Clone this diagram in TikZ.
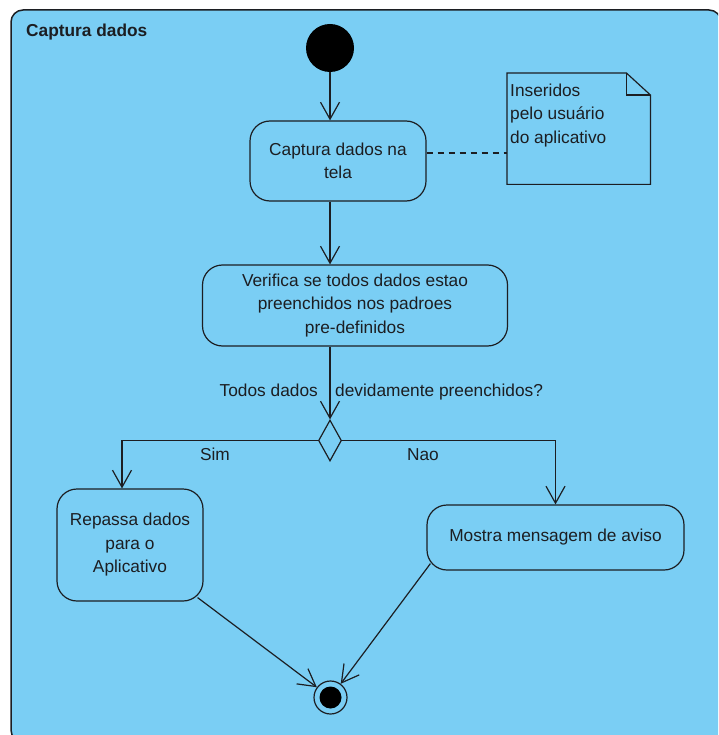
\documentclass[tikz,border=0pt]{standalone}
\usepackage{fontspec}
\setmainfont{Liberation Sans}
\usetikzlibrary{arrows.meta,shapes.geometric}
\definecolor{panel}{RGB}{122,206,244}
\definecolor{ink}{RGB}{28,30,34}
\begin{document}
\begin{tikzpicture}[x=1pt,y=-1pt,
  every node/.style={font=\fontsize{17.3pt}{23.5pt}\selectfont, text=ink},
  actbox/.style={draw=ink, line width=1.2pt, rounded corners=20pt, align=center, inner sep=0pt},
  flow/.style={draw=ink, line width=1.2pt, -{Straight Barb[length=17pt,width=19pt,line width=1.2pt]}},
  lbl/.style={inner sep=0pt}]
  \path[use as bounding box] (0,0) rectangle (718,735);
  \clip (0,0) rectangle (718,735);

  % activity frame
  \draw[fill=panel, draw=ink, line width=1.5pt, rounded corners=12pt] (11,10) rectangle (721,742);
  \node[lbl, anchor=base west, font=\fontsize{17.3pt}{20pt}\selectfont\bfseries] (title) at (26,37) {Captura dados};

  % initial and final nodes
  \node[circle, fill=black, minimum size=48pt, inner sep=0pt] (start) at (330,48) {};
  \node[circle, draw=ink, fill=panel, line width=1.2pt, minimum size=33pt, inner sep=0pt] (fin) at (330.5,697.5) {};
  \fill[black] (fin.center) circle[radius=11pt];

  % actions
  \node[actbox, minimum width=176pt, minimum height=80pt] (b1) at (338,161) {Captura dados na\\tela};
  \node[actbox, minimum width=305pt, minimum height=81pt] (b2) at (355,305.5) {Verifica se todos dados estao\\preenchidos nos padroes\\pre-definidos};
  \node[actbox, minimum width=146pt, minimum height=112pt] (b3) at (130,545) {Repassa dados\\para o\\Aplicativo};
  \node[actbox, minimum width=257pt, minimum height=65pt] (b4) at (555.5,537.5) {Mostra mensagem de aviso};

  % decision
  \node[diamond, draw=ink, line width=1.2pt, minimum width=23pt, minimum height=41pt, inner sep=0pt] (dia) at (330,440.5) {};

  % note with folded corner
  \node[minimum width=143pt, minimum height=111pt, inner sep=0pt, anchor=north west] (note) at (507,73) {};
  \draw[ink, line width=1.2pt, fill=panel] (note.north west) -- ([xshift=-24pt]note.north east)
    -- ([yshift=-22pt]note.north east) -- (note.south east) -- (note.south west) -- cycle;
  \draw[ink, line width=1.2pt] ([xshift=-24pt]note.north east) |- ([yshift=-22pt]note.north east);
  % the base anchor of a multi-line node sits on its last line
  \node[lbl, anchor=base west, align=left] (notetext) at (510,143.5) {Inseridos\\pelo usuário\\do aplicativo};
  \draw[ink, line width=1.2pt, dash pattern=on 6pt off 5pt] ([yshift=8pt]b1.east) -- ([yshift=8pt]b1.east -| note.west);

  % control flow
  \draw[flow] (start) -- (start |- b1.north);
  \draw[flow] (start |- b1.south) -- (start |- b2.north);
  \draw[flow] (start |- b2.south) -- (dia.north);
  \draw[flow] (dia.west) -| ([xshift=-8pt]b3.north);
  \draw[flow] (dia.east) -| (b4.north);
  \coordinate (b3out) at ([shift={(-6pt,4pt)}]b3.south east);
  \coordinate (b4out) at ([shift={(4pt,7pt)}]b4.south west);
  \draw[flow] (b3out) -- (fin);
  \draw[flow] (b4out) -- (fin);

  % guard labels
  \node[lbl, anchor=base east] (q1) at (318,396) {Todos dados};
  \node[lbl, anchor=base west] (q2) at (335,396) {devidamente preenchidos?};
  \node[lbl, anchor=base] (sim) at (215,460) {Sim};
  \node[lbl, anchor=base] (nao) at (423,460) {Nao};
\end{tikzpicture}
\end{document}
